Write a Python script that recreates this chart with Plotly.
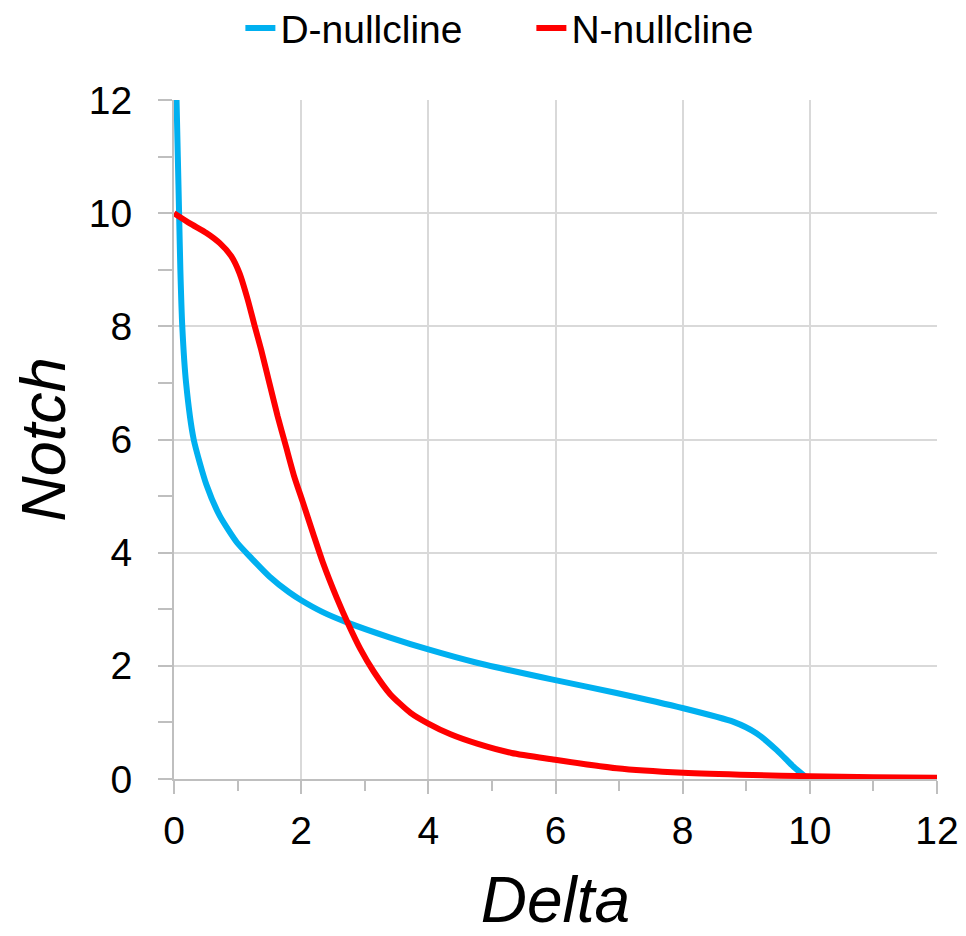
import plotly.graph_objects as go

# D-nullcline (blue)
d_delta = [0.04, 0.06, 0.08, 0.10, 0.13, 0.19, 0.31, 0.51, 0.72, 0.99, 1.22, 1.50, 1.81,
           2.0, 2.34, 2.74, 3.40, 4.0, 4.78, 5.94, 6.96, 8.01, 8.80, 9.16, 9.48, 9.74, 9.95]
d_notch = [12.0, 11.0, 10.0, 9.0, 8.0, 7.0, 6.0, 5.2, 4.65, 4.18, 3.9, 3.58, 3.30,
           3.16, 2.95, 2.76, 2.5, 2.29, 2.05, 1.76, 1.52, 1.25, 1.01, 0.81, 0.51, 0.22, 0.02]

# N-nullcline (red)
n_delta = [0.0, 0.25, 0.51, 0.72, 0.90, 1.03, 1.16, 1.27, 1.37, 1.50, 1.63, 1.76, 1.89, 2.03,
           2.19, 2.34, 2.56, 2.74, 2.93, 3.14, 3.40, 3.72, 4.0, 4.35, 4.78, 5.31, 5.94, 6.96,
           8.01, 9.1, 10.0, 11.0, 12.0]
n_notch = [10.0, 9.82, 9.65, 9.47, 9.24, 8.94, 8.47, 8.0, 7.59, 7.0, 6.41, 5.88, 5.35, 4.88,
           4.33, 3.83, 3.2, 2.74, 2.3, 1.9, 1.5, 1.17, 0.98, 0.79, 0.62, 0.46, 0.35, 0.19,
           0.11, 0.07, 0.05, 0.03, 0.02]

FONT = "Arial, Liberation Sans, sans-serif"
AXIS_COL = "#bfbfbf"
GRID_COL = "#d9d9d9"

fig = go.Figure()
fig.add_trace(go.Scatter(x=d_delta, y=d_notch, mode="lines", name="D-nullcline",
                         line=dict(color="#00b0f0", width=6, shape="spline", smoothing=0.6)))
fig.add_trace(go.Scatter(x=n_delta, y=n_notch, mode="lines", name="N-nullcline",
                         line=dict(color="#ff0000", width=6, shape="spline", smoothing=0.6)))

fig.update_layout(
    width=958, height=928,
    margin=dict(l=166, r=29, t=92, b=157, autoexpand=False),
    paper_bgcolor="white", plot_bgcolor="white",
    font=dict(family=FONT, color="black"),
    showlegend=True,
    legend=dict(orientation="h", x=0.087, xanchor="left", y=1.106, yanchor="middle",
                font=dict(size=39, family=FONT), entrywidth=246, bgcolor="rgba(0,0,0,0)"),
    xaxis=dict(range=[0, 12], dtick=2, tick0=0, showgrid=True, gridcolor=GRID_COL, gridwidth=2,
               showline=True, linecolor=AXIS_COL, linewidth=2, zeroline=False, automargin=False,
               ticks="outside", ticklen=13, tickwidth=2, tickcolor=AXIS_COL, ticklabelstandoff=3,
               minor=dict(dtick=1, ticks="outside", ticklen=10, tickwidth=2, tickcolor=AXIS_COL, showgrid=False),
               tickfont=dict(size=39, family=FONT),
               title=dict(text="<i>Delta</i>", font=dict(size=64, family=FONT), standoff=39)),
    yaxis=dict(range=[0, 12], dtick=2, tick0=0, showgrid=True, gridcolor=GRID_COL, gridwidth=2,
               showline=True, linecolor=AXIS_COL, linewidth=2, zeroline=False, automargin=False,
               ticks="outside", ticklen=14, tickwidth=2, tickcolor=AXIS_COL, ticklabelstandoff=18,
               minor=dict(dtick=1, ticks="outside", ticklen=14, tickwidth=2, tickcolor=AXIS_COL, showgrid=False),
               tickfont=dict(size=39, family=FONT),
               title=dict(text="<i>Notch</i>", font=dict(size=63, family=FONT), standoff=20)),
)

fig.write_html("out.html")
